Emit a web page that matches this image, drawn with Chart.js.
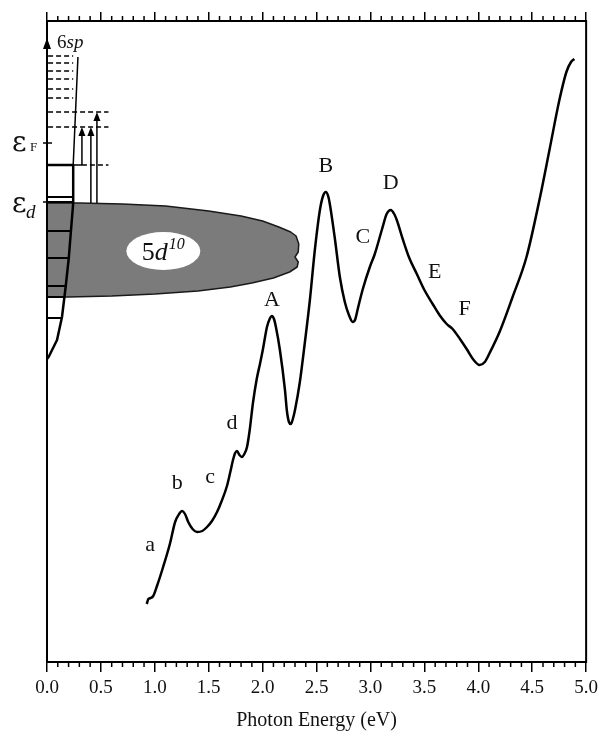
<!DOCTYPE html>
<html><head><meta charset="utf-8">
<script src="https://cdn.jsdelivr.net/npm/chart.js@4.4.1/dist/chart.umd.min.js"></script>
<style>html,body{margin:0;padding:0;background:#fff}#wrap{width:603px;height:739px}</style>
</head><body><div id="wrap"><canvas id="c" width="603" height="739"></canvas></div>
<script>
// ---- data (photon energy in eV, response in arbitrary units) ----
const energy = [0.925,0.94,0.96,0.985,1.02,1.077,1.142,1.188,1.225,1.253,1.28,1.31,1.35,1.392,1.44,1.484,1.53,1.577,1.62,1.669,
  1.70,1.725,1.745,1.762,1.785,1.808,1.83,1.855,1.88,1.91,1.945,1.975,2.003,2.04,2.065,2.086,2.105,2.123,2.16,2.207,
  2.225,2.244,2.262,2.28,2.30,2.345,2.392,2.438,2.484,2.531,2.56,2.586,2.61,2.623,2.669,2.716,2.762,2.8,2.836,2.86,2.882,2.929,
  2.994,3.04,3.105,3.15,3.188,3.22,3.244,3.299,3.36,3.43,3.5,3.577,3.64,3.707,3.762,3.83,3.892,3.95,4.012,4.06,
  4.105,4.197,4.318,4.447,4.567,4.66,4.752,4.817,4.86,4.891];
const response = [58,63,64,66,76,95,119,140,148,151,148,140,133,130,131,135,141,150,161,176,
  190,202,209,211,207,205,208,215,232,259,283,298,313,335,343,346,343,335,312,272,
  251,240,238,243,252,280,320,362,412,452,466,470,465,458,424,385,360,347,340,343,353,373,
  395,408,432,448,452,448,442,423,404,388,372,358,347,338,333,323,313,303,297,300,
  309,330,365,405,462,512,562,590,600,603];
const xTickValues = [0,0.5,1,1.5,2,2.5,3,3.5,4,4.5,5];
const peakNames = ['a','b','c','d','A','B','C','D','E','F'];
const peakNameE = [0.957,1.207,1.512,1.716,2.086,2.586,2.929,3.188,3.595,3.873];
const peakNameY = [117,179,185,239,362,496,425,479,390,353];

// ---- schematic level diagram (in the same data units) ----
const sixSpLevels = [606,599,591,583,573,564];
const upperLevels = [550,535];
const boxTop = 497;
const fermiLevel = 519;
const dLevel = 460;
const boxEdgeE = [0.243,0.243,0.222,0.202,0.174,0.139,0.093,0.015,0];
const boxEdgeY = [497,459,431,404,376,345,322,305,303];
const rungY = [465,460,431,404,376,365,344];
const rungE = [0.243,0.240,0.222,0.202,0.174,0.165,0.139];
const blobE = [0,0.3,0.7,1.1,1.5,1.8,2.0,2.15,2.26,2.31,2.335,2.33,2.30,2.33,2.32,2.25,2.1,1.9,1.7,1.4,1.0,0.6,0.2,0];
const blobY = [459,459,458,456,451,446,441,435,430,426,418,410,405,400,395,390,384,379,375,371,368,366,365,365];
const transE = [0.324,0.407,0.463];
const transFrom = [497,459,459];
const transTo = [535,535,550];

const SERIF = '"Liberation Serif","Times New Roman",serif';

const frameAndSchematic = {
  id: 'frameAndSchematic',
  beforeDatasetsDraw(chart) {
    const {ctx, scales:{x, y}} = chart;
    const X = v => x.getPixelForValue(v), Y = v => y.getPixelForValue(v);
    ctx.save();
    // grey 5d band
    ctx.beginPath();
    blobE.forEach((e,i)=> i ? ctx.lineTo(X(e),Y(blobY[i])) : ctx.moveTo(X(e),Y(blobY[i])));
    ctx.closePath();
    ctx.fillStyle = '#7b7b7b'; ctx.fill();
    ctx.lineWidth = 1.5; ctx.strokeStyle = '#1a1a1a'; ctx.lineJoin='round'; ctx.stroke();
    // white ellipse with 5d10
    const cx = X(1.079), cy = Y(411);
    ctx.beginPath(); ctx.ellipse(cx, cy, 37, 19, 0, 0, Math.PI*2); ctx.fillStyle='#fff'; ctx.fill();
    ctx.fillStyle = '#111'; ctx.textBaseline = 'alphabetic'; ctx.textAlign='left';
    const f1 = '26px '+SERIF, f2 = 'italic 26px '+SERIF, f3 = 'italic 16px '+SERIF;
    ctx.font=f1; const w5 = ctx.measureText('5').width;
    ctx.font=f2; const wd = ctx.measureText('d').width;
    ctx.font=f3; const w10 = ctx.measureText('10').width;
    let tx = cx - (w5+wd+w10+1)/2; const base = cy + 9;
    ctx.font=f1; ctx.fillText('5', tx, base); tx += w5;
    ctx.font=f2; ctx.fillText('d', tx, base); tx += wd+1;
    ctx.font=f3; ctx.fillText('10', tx, base-11);
    // box with sqrt-like right edge
    ctx.strokeStyle='#000'; ctx.lineWidth=2.5;
    ctx.beginPath(); ctx.moveTo(X(0),Y(boxTop));
    boxEdgeE.forEach((e,i)=>ctx.lineTo(X(e),Y(boxEdgeY[i])));
    ctx.stroke();
    ctx.lineWidth=2;
    rungY.forEach((v,i)=>{ctx.beginPath();ctx.moveTo(X(0),Y(v));ctx.lineTo(X(rungE[i]),Y(v));ctx.stroke();});
    // 6sp line
    ctx.lineWidth=1.5;
    ctx.beginPath(); ctx.moveTo(X(0.287),Y(605)); ctx.lineTo(X(0.243),Y(boxTop)); ctx.stroke();
    // solid short line from box to first arrow
    ctx.beginPath(); ctx.moveTo(X(0.243),Y(boxTop)); ctx.lineTo(X(0.324),Y(boxTop)); ctx.stroke();
    // dashed levels
    ctx.setLineDash([5,3]); ctx.lineWidth=1.5;
    sixSpLevels.forEach(v=>{ctx.beginPath();ctx.moveTo(X(0.01),Y(v));ctx.lineTo(X(0.243),Y(v));ctx.stroke();});
    upperLevels.forEach(v=>{ctx.beginPath();ctx.moveTo(X(0.01),Y(v));ctx.lineTo(X(0.57),Y(v));ctx.stroke();});
    ctx.beginPath();ctx.moveTo(X(0.324),Y(boxTop));ctx.lineTo(X(0.57),Y(boxTop));ctx.stroke();
    ctx.setLineDash([]);
    // transition arrows
    transE.forEach((e,i)=>{
      const px=X(e), y0=Y(transFrom[i]), y1=Y(transTo[i]);
      ctx.lineWidth=1.5; ctx.beginPath(); ctx.moveTo(px,y0); ctx.lineTo(px,y1+6); ctx.stroke();
      ctx.beginPath(); ctx.moveTo(px,y1); ctx.lineTo(px-3.5,y1+9); ctx.lineTo(px+3.5,y1+9); ctx.closePath();
      ctx.fillStyle='#000'; ctx.fill();
    });
    ctx.restore();
  },
  afterDraw(chart) {
    const {ctx, chartArea:a, scales:{x, y}} = chart;
    const X = v => x.getPixelForValue(v), Y = v => y.getPixelForValue(v);
    ctx.save();
    // frame
    ctx.strokeStyle='#000'; ctx.lineWidth=2;
    ctx.strokeRect(a.left, a.top, a.right-a.left, a.bottom-a.top);
    // minor ticks
    ctx.lineWidth=1.5;
    for (let i=1;i<50;i++){ if(i%5===0) continue;
      const px = X(i/10);
      ctx.beginPath(); ctx.moveTo(px,a.bottom); ctx.lineTo(px,a.bottom+5); ctx.stroke();
      ctx.beginPath(); ctx.moveTo(px,a.top); ctx.lineTo(px,a.top-5); ctx.stroke();
    }
    // arrowhead on energy axis
    const ax = X(0), ay = Y(624);
    ctx.beginPath(); ctx.moveTo(ax,ay); ctx.lineTo(ax-4,ay+11); ctx.lineTo(ax+4,ay+11); ctx.closePath();
    ctx.fillStyle='#000'; ctx.fill();
    // level ticks
    ctx.lineWidth=1.5;
    ctx.beginPath(); ctx.moveTo(ax-4,Y(fermiLevel)); ctx.lineTo(ax+5,Y(fermiLevel)); ctx.stroke();
    ctx.beginPath(); ctx.moveTo(ax-4,Y(dLevel)); ctx.lineTo(ax+2,Y(dLevel)); ctx.stroke();
    // level labels
    ctx.fillStyle='#111'; ctx.textAlign='left'; ctx.textBaseline='alphabetic';
    ctx.font='28px "DejaVu Serif",serif'; ctx.fillText('ε', 12, Y(fermiLevel)+8);
    ctx.font='13px '+SERIF; ctx.fillText('F', 30, Y(fermiLevel)+8);
    ctx.font='28px "DejaVu Serif",serif'; ctx.fillText('ε', 12, Y(dLevel)+10);
    ctx.font='italic 19px '+SERIF; ctx.fillText('d', 26, Y(dLevel)+16);
    // 6sp
    ctx.font='19px '+SERIF; ctx.fillText('6', 57, Y(614)); const w6=ctx.measureText('6').width;
    ctx.font='italic 19px '+SERIF; ctx.fillText('sp', 57+w6, Y(614));
    // peak labels
    ctx.font='22px '+SERIF; ctx.textAlign='center'; ctx.textBaseline='middle';
    peakNames.forEach((n,i)=>ctx.fillText(n, X(peakNameE[i]), Y(peakNameY[i])));
    ctx.restore();
  }
};

new Chart(document.getElementById('c'), {
  type: 'line',
  data: { datasets: [{
    data: energy.map((e,i)=>({x:e, y:response[i]})),
    borderColor:'#000', borderWidth:2.5, pointRadius:0, fill:false,
    cubicInterpolationMode:'monotone'
  }]},
  options: {
    responsive:false, devicePixelRatio:1, animation:false,
    layout:{padding:{left:47,right:16,top:0,bottom:0}},
    plugins:{legend:{display:false}, tooltip:{enabled:false}},
    scales:{
      x:{type:'linear', position:'bottom', min:0, max:5,
        afterBuildTicks(s){ s.ticks = xTickValues.map(v=>({value:v})); },
        afterFit(s){ s.height = 77; },
        ticks:{callback:v=>Number(v).toFixed(1), color:'#111', padding:5, maxRotation:0, autoSkip:false,
          font:{family:SERIF, size:19}},
        grid:{drawOnChartArea:false, tickLength:10, color:'#000', lineWidth:1.5},
        border:{display:true, color:'#000', width:2},
        title:{display:true, text:'Photon Energy (eV)', color:'#111', font:{family:SERIF, size:20}, padding:{top:0,bottom:6}}
      },
      x2:{type:'linear', position:'top', min:0, max:5,
        afterBuildTicks(s){ s.ticks = xTickValues.map(v=>({value:v})); },
        afterFit(s){ s.height = 21; },
        ticks:{display:false},
        grid:{drawOnChartArea:false, tickLength:9, color:'#000', lineWidth:1.5},
        border:{display:true, color:'#000', width:2}
      },
      y:{display:false, min:0, max:641}
    }
  },
  plugins:[frameAndSchematic]
});
</script></body></html>
